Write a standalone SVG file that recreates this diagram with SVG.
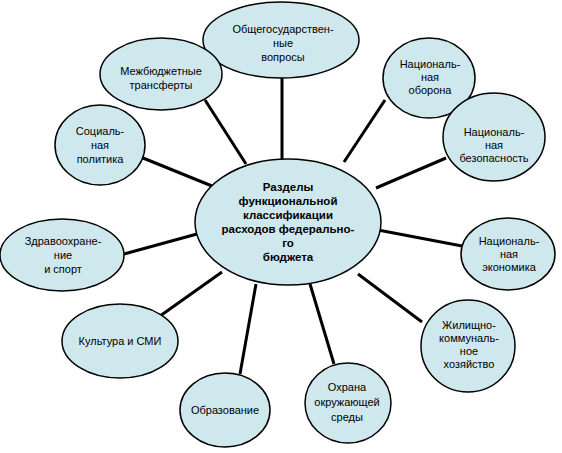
<svg xmlns="http://www.w3.org/2000/svg" width="562" height="453" viewBox="0 0 562 453">
<style>
.n{fill:#cfe8ee;stroke:#000;stroke-width:1.5}
.t{font-family:"Liberation Sans",Arial,sans-serif;font-size:11px;fill:#000;text-anchor:middle}
.c{font-weight:bold;font-size:11.5px}
.l{stroke:#000;stroke-width:3;fill:none}
</style>
<rect width="562" height="453" fill="#fff"/>
<g id="connectors">
<line class="l" x1="282" y1="78" x2="282" y2="160"/>
<line class="l" x1="205" y1="100" x2="246" y2="164"/>
<line class="l" x1="143" y1="158" x2="212" y2="186"/>
<line class="l" x1="124" y1="254" x2="197" y2="234"/>
<line class="l" x1="160" y1="316" x2="222" y2="272"/>
<line class="l" x1="240" y1="374" x2="256" y2="284"/>
<line class="l" x1="334" y1="364" x2="310" y2="284"/>
<line class="l" x1="422" y1="322" x2="358" y2="274"/>
<line class="l" x1="462" y1="246" x2="378" y2="230"/>
<line class="l" x1="446" y1="158" x2="376" y2="188"/>
<line class="l" x1="385" y1="100" x2="344" y2="162"/>
</g>
<g id="center">
<ellipse class="n" cx="288" cy="222" rx="93" ry="63"/>
<text class="t c" x="288" y="191">Разделы</text>
<text class="t c" x="288" y="205">функциональной</text>
<text class="t c" x="288" y="219">классификации</text>
<text class="t c" x="288" y="233">расходов федерально-</text>
<text class="t c" x="288" y="247">го</text>
<text class="t c" x="288" y="261">бюджета</text>
</g>
<g id="n1">
<ellipse class="n" cx="281" cy="40" rx="78" ry="38"/>
<text class="t" x="283" y="33">Общегосударствен-</text>
<text class="t" x="283" y="47">ные</text>
<text class="t" x="283" y="61">вопросы</text>
</g>
<g id="n2">
<ellipse class="n" cx="161" cy="74" rx="61" ry="36"/>
<text class="t" x="161" y="75">Межбюджетные</text>
<text class="t" x="161" y="89">трансферты</text>
</g>
<g id="n3">
<ellipse class="n" cx="100" cy="145" rx="45" ry="40"/>
<text class="t" x="100" y="135">Социаль-</text>
<text class="t" x="100" y="149">ная</text>
<text class="t" x="100" y="163">политика</text>
</g>
<g id="n4">
<ellipse class="n" cx="429" cy="78" rx="46" ry="40"/>
<text class="t" x="430" y="68">Националь-</text>
<text class="t" x="430" y="81">ная</text>
<text class="t" x="430" y="94">оборона</text>
</g>
<g id="n5">
<ellipse class="n" cx="494" cy="137" rx="51" ry="44"/>
<text class="t" x="494" y="136">Националь-</text>
<text class="t" x="494" y="149">ная</text>
<text class="t" x="494" y="162">безопасность</text>
</g>
<g id="n6">
<ellipse class="n" cx="508" cy="254" rx="47" ry="36"/>
<text class="t" x="509" y="245">Националь-</text>
<text class="t" x="509" y="258">ная</text>
<text class="t" x="509" y="271">экономика</text>
</g>
<g id="n7">
<ellipse class="n" cx="468" cy="346" rx="47" ry="46"/>
<text class="t" x="469" y="329">Жилищно-</text>
<text class="t" x="469" y="342">коммуналь-</text>
<text class="t" x="469" y="355">ное</text>
<text class="t" x="469" y="368">хозяйство</text>
</g>
<g id="n8">
<ellipse class="n" cx="348" cy="403" rx="43" ry="40"/>
<text class="t" x="347" y="391">Охрана</text>
<text class="t" x="347" y="406">окружающей</text>
<text class="t" x="347" y="421">среды</text>
</g>
<g id="n9">
<ellipse class="n" cx="225" cy="410" rx="45" ry="37"/>
<text class="t" x="225" y="414">Образование</text>
</g>
<g id="n10">
<ellipse class="n" cx="120" cy="341" rx="58" ry="37"/>
<text class="t" x="120" y="345">Культура и СМИ</text>
</g>
<g id="n11">
<ellipse class="n" cx="62" cy="255" rx="62" ry="36"/>
<text class="t" x="63" y="245">Здравоохране-</text>
<text class="t" x="63" y="259">ние</text>
<text class="t" x="63" y="273">и спорт</text>
</g>
</svg>
